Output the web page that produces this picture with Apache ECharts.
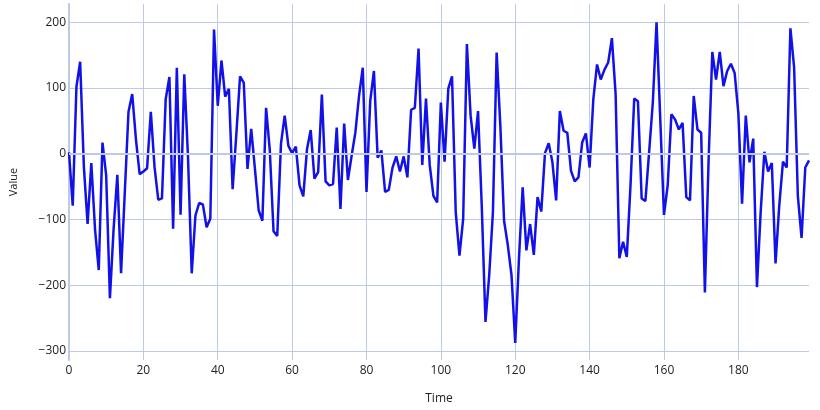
<!DOCTYPE html>
<html>
<head>
<meta charset="utf-8">
<script src="https://cdn.jsdelivr.net/npm/echarts@6/dist/echarts.min.js"></script>
<style>html,body{margin:0;padding:0;background:#fff}#c{width:820px;height:410px}</style>
</head>
<body>
<div id="c"></div>
<script>
const times = Array.from({length: 200}, (_, i) => i);
const values = [
  2, -79, 102, 140, -20, -107, -14, -115, -177, 17,
  -33, -220, -114, -32, -182, -59, 64, 91, 22, -31,
  -27, -22, 64, -20, -70, -68, 83, 117, -114, 131,
  -93, 121, -5, -182, -94, -75, -77, -112, -99, 189,
  73, 142, 87, 99, -54, 30, 118, 108, -23, 38,
  -23, -86, -102, 70, 5, -118, -125, 15, 58, 12,
  1, 11, -48, -65, 7, 36, -38, -28, 90, -42,
  -48, -46, 40, -84, 46, -40, -3, 32, 88, 131,
  -58, 80, 126, -6, 5, -58, -55, -21, -4, -27,
  -4, -36, 67, 70, 160, -17, 84, -17, -64, -74,
  78, -12, 99, 118, -89, -155, -99, 167, 58, 8,
  65, -80, -256, -185, -89, 154, 42, -102, -139, -185,
  -288, -160, -51, -147, -107, -154, -66, -88, 1, 16,
  -13, -71, 65, 35, 32, -26, -42, -36, 17, 31,
  -21, 83, 136, 113, 128, 139, 176, 90, -159, -134,
  -157, -48, 84, 80, -68, -72, 2, 78, 200, 53,
  -93, -48, 60, 52, 37, 47, -66, -71, 88, 37,
  32, -211, -10, 155, 113, 155, 103, 126, 137, 123,
  62, -76, 58, -13, 23, -203, -89, 3, -27, -14,
  -167, -79, -12, -21, 191, 131, -64, -128, -21, -10
];
const xTickStep = 20;
const yRange = [-314, 228];
const xRange = [0, 199];

const gridColor = '#bccae6';
const chart = echarts.init(document.getElementById('c'), null, {renderer: 'canvas'});
chart.setOption({
  animation: false,
  backgroundColor: '#ffffff',
  textStyle: {fontFamily: 'Open Sans'},
  grid: {left: 69, right: 11, top: 4, bottom: 48, containLabel: false},
  xAxis: {
    type: 'value',
    min: xRange[0], max: xRange[1], interval: xTickStep,
    name: 'Time', nameLocation: 'middle', nameGap: 33,
    nameTextStyle: {color: '#222', fontSize: 12, fontFamily: 'Open Sans'},
    axisLine: {show: false},
    axisTick: {show: false},
    axisLabel: {color: '#222', fontSize: 12, margin: 5, showMaxLabel: false, fontFamily: 'Open Sans'},
    splitLine: {show: true, showMaxLine: false, lineStyle: {color: gridColor, width: 1}}
  },
  yAxis: {
    type: 'value',
    min: yRange[0], max: yRange[1], splitNumber: 5,
    name: 'Value', nameLocation: 'middle', nameGap: 50,
    nameTextStyle: {color: '#222', fontSize: 11, fontFamily: 'Open Sans'},
    axisLine: {show: true, lineStyle: {color: gridColor, width: 2}},
    axisTick: {show: false},
    axisLabel: {
      color: '#222', fontSize: 12, margin: 3, showMinLabel: false, showMaxLabel: false,
      fontFamily: 'Open Sans',
      formatter: v => String(v).replace('-', '\u2212')
    },
    splitLine: {show: true, showMinLine: false, showMaxLine: false, lineStyle: {color: gridColor, width: 1}}
  },
  series: [{
    type: 'line',
    data: times.map((t, i) => [t, values[i]]),
    showSymbol: false,
    symbol: 'none',
    lineStyle: {color: '#1212e8', width: 2.5},
    markLine: {
      silent: true, symbol: 'none', label: {show: false},
      lineStyle: {color: gridColor, width: 2, type: 'solid'},
      data: [{yAxis: 0}]
    },
    z: 3
  }]
});
</script>
</body>
</html>
